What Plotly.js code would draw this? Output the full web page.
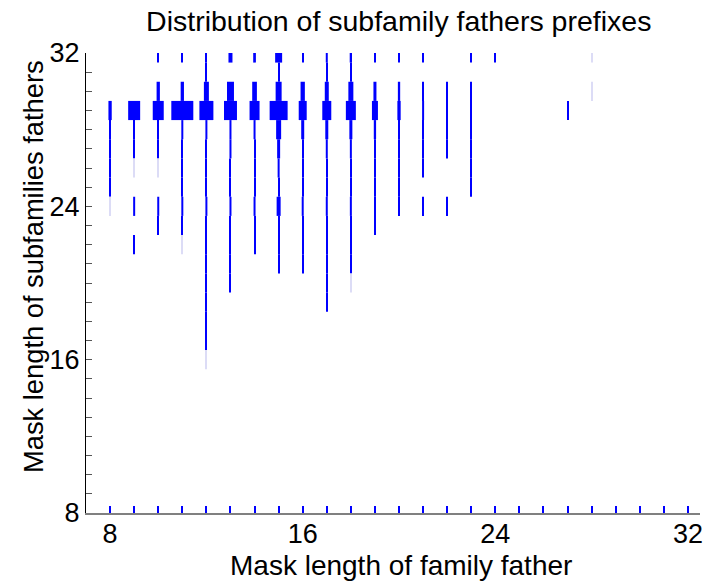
<!DOCTYPE html>
<html><head><meta charset="utf-8">
<script src="https://cdn.plot.ly/plotly-3.0.1.min.js"></script>
<style>html,body{margin:0;padding:0;background:#fff}</style>
</head><body>
<div id="chart" style="width:707px;height:581px"></div>
<script>
// Each cell: family-father mask length (x), subfamily-father mask length (y),
// and its relative magnitude (drawn as the rectangle width; < 1 = very small count)
const cellX = [
  8,8,8,8,8,8,
  9,9,9,9,9,9,
  10,10,10,10,10,10,10,10,
  11,11,11,11,11,11,11,11,11,11,
  12,12,12,12,12,12,12,12,12,12,12,12,12,12,12,12,12,
  13,13,13,13,13,13,13,13,13,13,13,13,
  14,14,14,14,14,14,14,14,14,14,
  15,15,15,15,15,15,15,15,15,15,15,15,
  16,16,16,16,16,16,16,16,16,16,16,
  17,17,17,17,17,17,17,17,17,17,17,17,17,17,
  18,18,18,18,18,18,18,18,18,18,18,18,18,
  19,19,19,19,19,19,19,19,19,
  20,20,20,20,20,20,20,20,
  21,21,21,21,21,21,21,
  22,22,22,22,22,
  23,23,23,23,23,23,23,
  24,
  27,
  28,28
];
const cellY = [
  29,28,27,26,25,24,
  29,28,27,26,24,22,
  32,30,29,28,27,26,24,23,
  32,30,29,28,27,26,25,24,23,22,
  32,31,30,29,28,27,26,25,24,23,22,21,20,19,18,17,16,
  32,30,29,28,27,26,25,24,23,22,21,20,
  32,30,29,28,27,26,25,24,23,22,
  32,31,30,29,28,27,26,25,24,23,22,21,
  32,30,29,28,27,26,25,24,23,22,21,
  32,31,30,29,28,27,26,25,24,23,22,21,20,19,
  32,31,30,29,28,27,26,25,24,23,22,21,20,
  32,30,29,28,27,26,25,24,23,
  32,30,29,28,27,26,25,24,
  32,30,29,28,27,26,24,
  30,29,28,27,24,
  32,30,29,28,27,26,25,
  32,
  29,
  32,30
];
const cellMag = [
  3.3,1,1,1,1,0.3,
  12,1,1,0.3,2,1,
  1,3.3,11,1,1,0.3,2,1,
  1,3.3,22,2,1,1,1,2,1,0.3,
  1,1,5,14,2,1,1,1,2,1,1,1,1,1,1,1,0.3,
  4,7,13,2,2,1,1,2,1,1,1,1,
  2.7,4.7,10,2,1,1,1,2,1,1,
  7,1,6,18,5,3,2,1,4,1,1,1,
  1,4.3,8,3,1,1,1,2,1,1,1,
  2,1,4,9,3,2,1,1,2,1,1,1,1,1,
  2.3,1,5,10,3,2,1,1,2,1,1,1,0.3,
  1,3,6,2.3,1,1,1,1,1,
  1,2.3,3.3,1,1,1,1,1,
  1,1,2,1,1,1,1,
  1,1,1,1,1,
  1,1,1,1,1,1,1,
  1,
  1,
  0.3,0.3
];
const xTickVals = [8, 16, 24, 32];
const yTickVals = [8, 16, 24, 32];

const xRange = [7, 32.5];
const plotW = 707 - 86 - 7;
const pxPerUnit = plotW / (xRange[1] - xRange[0]);

const widths = cellMag.map(m => Math.max(m, 1) / pxPerUnit);
const colors = cellMag.map(m => m < 1 ? '#dcdcf6' : '#0000ff');
const bases = cellY.map(v => v - 0.5);
const heights = cellY.map(() => 1);

const trace = {
  type: 'bar',
  x: cellX,
  y: heights,
  base: bases,
  width: widths,
  marker: {color: colors, opacity: 0.999, line: {width: 0}},
  hoverinfo: 'skip',
  showlegend: false
};

const fontFam = '"Liberation Sans", Arial, Helvetica, sans-serif';
const layout = {
  width: 707, height: 581,
  margin: {l: 86, r: 7, t: 53, b: 68},
  paper_bgcolor: '#fff', plot_bgcolor: '#fff',
  barmode: 'overlay',
  font: {family: fontFam, size: 28, color: '#000'},
  title: {text: 'Distribution of subfamily fathers prefixes',
          font: {family: fontFam, size: 28.5, color: '#000'},
          xref: 'container', x: 0.564, xanchor: 'center',
          yref: 'container', y: 1 - 21/581, yanchor: 'middle'},
  xaxis: {
    range: xRange, tickmode: 'array', tickvals: xTickVals,
    ticks: 'inside', ticklen: 7, tickwidth: 2, tickcolor: '#0000ff',
    minor: {tickmode: 'linear', tick0: 8, dtick: 1, ticks: 'inside', ticklen: 7, tickwidth: 2, tickcolor: '#0000ff', showgrid: false},
    showline: true, linecolor: '#808080', linewidth: 1.5,
    showgrid: false, zeroline: false,
    ticklabelstandoff: -4,
    tickfont: {size: 27, color: '#000'}
  },
  yaxis: {
    range: [8, 32], tickmode: 'array', tickvals: yTickVals,
    ticks: 'inside', ticklen: 6, tickwidth: 1, tickcolor: '#555',
    minor: {tickmode: 'linear', tick0: 8, dtick: 1, ticks: 'inside', ticklen: 6, tickwidth: 1, tickcolor: '#555', showgrid: false},
    showline: true, linecolor: '#000', linewidth: 1,
    showgrid: false, zeroline: false,
    tickfont: {size: 27, color: '#000'}
  },
  annotations: [
    {text: 'Mask length of family father', xref: 'paper', yref: 'paper',
     x: (401 - 86) / 614, y: (513 - 565) / 460, xanchor: 'center', yanchor: 'middle',
     showarrow: false, font: {size: 28, color: '#000'}},
    {text: 'Mask length of subfamilies fathers', xref: 'paper', yref: 'paper',
     x: (33 - 86) / 614, y: (513 - 267) / 460, xanchor: 'center', yanchor: 'middle',
     textangle: -90, showarrow: false, font: {size: 27.3, color: '#000'}}
  ]
};

Plotly.newPlot('chart', [trace], layout, {displayModeBar: false, responsive: false});
</script>
</body></html>
